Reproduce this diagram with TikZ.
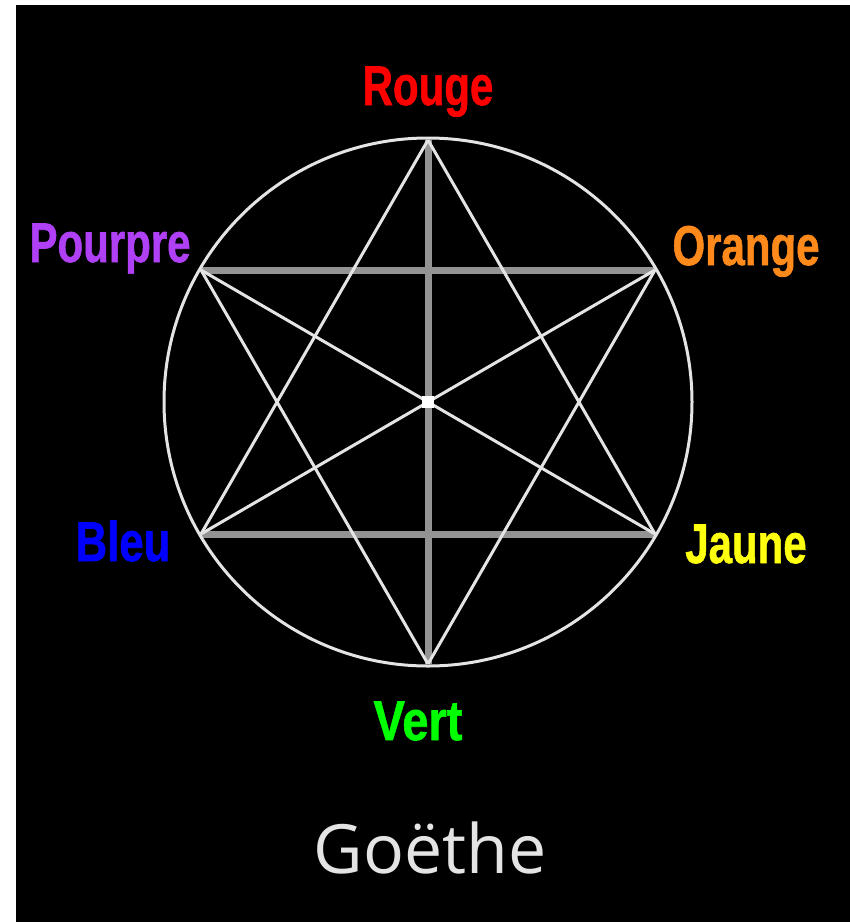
\documentclass[tikz,border=0pt]{standalone}
\usepackage{fontspec}
\usepackage{graphicx}
\newfontfamily\labfont[FakeBold=1.2]{Liberation Sans}
\newfontfamily\titlefont{Open Sans}
\definecolor{cRouge}{HTML}{FF0000}
\definecolor{cPourpre}{HTML}{B040F5}
\definecolor{cOrange}{HTML}{FF8A1C}
\definecolor{cBleu}{HTML}{0000FF}
\definecolor{cJaune}{HTML}{FFFF10}
\definecolor{cVert}{HTML}{00FF00}
\definecolor{lineW}{HTML}{E4E4E4}
\definecolor{lineG}{HTML}{939393}
\newcommand{\lab}[2][0.75]{\scalebox{#1}[1]{\bfseries #2}}
\begin{document}
\begin{tikzpicture}[x=1pt,y=-1pt,
  colorlabel/.style={anchor=base, inner sep=0pt, font=\labfont\fontsize{56}{60}\selectfont},
  whiteline/.style={draw=lineW, line width=3pt},
  grayline/.style={draw=lineG, line width=7pt},
]
\useasboundingbox (0,0) rectangle (850,922);
\fill[white] (0,0) rectangle (850,922);
\fill[black] (16,5) rectangle (850,922);

\coordinate (O) at (428,402);
\coordinate (T) at (428,140);
\coordinate (UR) at (655,270);
\coordinate (LR) at (655,534);
\coordinate (B) at (428,664);
\coordinate (LL) at (201,534);
\coordinate (UL) at (201,270);

% gray lines
\path[grayline] (T) -- (B);
\path[grayline] (UL) -- (UR);
\path[grayline] (LL) -- (LR);

% circle
\draw[lineW, line width=3pt] (O) circle (264);

% star lines
\path[whiteline] (T) -- (LL);
\path[whiteline] (T) -- (LR);
\path[whiteline] (B) -- (UL);
\path[whiteline] (B) -- (UR);
\path[whiteline] (UL) -- (LR);
\path[whiteline] (UR) -- (LL);

\node[fill=white, minimum size=12pt, inner sep=0pt] (centre) at (O) {};

% labels
\node[colorlabel, text=cRouge] (rouge) at (428,105) {\lab{Rouge}};
\node[colorlabel, text=cPourpre] (pourpre) at (110,262) {\lab{Pourpre}};
\node[colorlabel, text=cOrange] (orange) at (746,265) {\lab{Orange}};
\node[colorlabel, text=cBleu] (bleu) at (123,561) {\lab[0.78]{Bleu}};
\node[colorlabel, text=cJaune] (jaune) at (746,563) {\lab{Jaune}};
\node[colorlabel, text=cVert] (vert) at (418,740) {\lab[0.84]{Vert}};

\node[anchor=base, inner sep=0pt, text=lineW, font=\titlefont\fontsize{68}{72}\selectfont] (title) at (430,873) {Goëthe};
\end{tikzpicture}
\end{document}
